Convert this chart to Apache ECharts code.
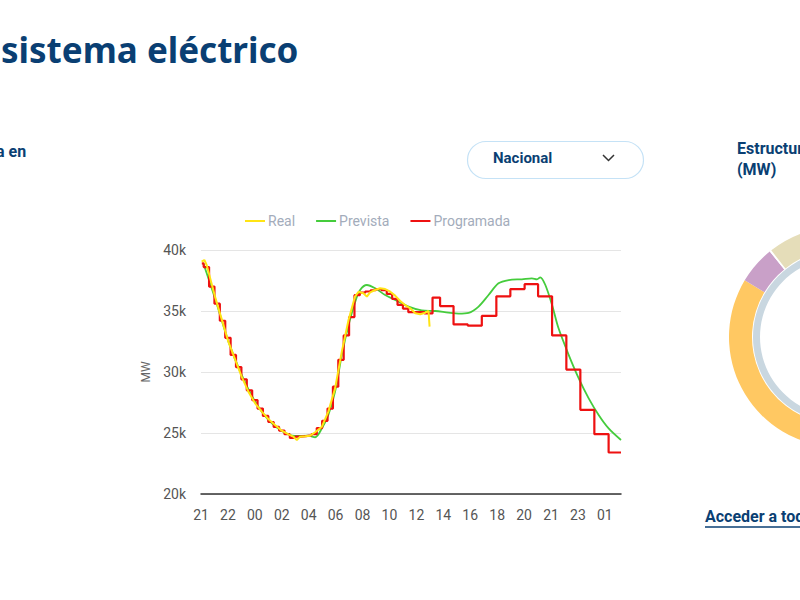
<!DOCTYPE html>
<html>
<head>
<meta charset="utf-8">
<script src="https://cdn.jsdelivr.net/npm/echarts@6/dist/echarts.min.js"></script>
<style>
html,body{margin:0;padding:0;background:#fff;}
#chart{width:800px;height:600px;}
</style>
</head>
<body>
<div id="chart"></div>
<script>
// x positions are in tick-label units (0 = first label "21")
const tickLabels = ['21','22','00','02','04','06','08','10','12','14','16','18','20','21','23','01'];

const realX = [0.025,0.124,0.21,0.52,1.016,1.51,1.76,2.01,2.26,2.50,2.75,3.00,3.25,3.43,3.56,3.68,3.87,4.05,4.24,4.49,4.73,4.98,5.23,5.48,5.72,5.85,6.03,6.16,6.28,6.47,6.65,6.84,7.03,7.21,7.40,7.58,7.77,7.96,8.14,8.33,8.45,8.49];
const realY = [39040,39180,38770,36180,32490,29620,28390,27430,26750,26150,25660,25190,24890,24700,24430,24700,24730,24780,25060,25520,26750,28660,31670,34260,36180,36580,36450,36180,36530,36720,36860,36800,36580,36260,35820,35490,35220,34810,34730,34860,35000,33720];

const prevX = [0.09,0.52,1.02,1.51,2.01,2.50,3.00,3.49,3.99,4.24,4.49,4.73,4.98,5.23,5.48,5.73,5.91,6.16,6.47,6.84,7.21,7.71,8.20,8.70,9.19,9.57,9.94,10.31,10.68,11.05,11.43,11.92,12.29,12.48,12.60,12.79,13.04,13.28,13.66,14.03,14.40,14.77,15.14,15.60];
const prevY = [38900,36040,32490,29760,27570,26070,25170,24760,24780,24650,25380,26480,28390,31390,33850,35770,36720,37130,36860,36310,35900,35360,35050,35000,34860,34780,34840,35360,36310,37270,37540,37600,37680,37600,37760,37130,35490,33580,31390,29480,27840,26480,25380,24430];

const progX = [0.03,0.1,0.3,0.5,0.7,0.9,1.1,1.3,1.5,1.7,1.9,2.1,2.3,2.5,2.7,2.9,3.1,3.3,3.5,3.7,3.9,4.1,4.3,4.5,4.7,4.9,5.1,5.3,5.5,5.7,5.9,6.1,6.3,6.5,6.7,6.9,7.1,7.3,7.5,7.7,7.9,8.1,8.3,8.60,8.88,9.38,9.91,10.43,10.97,11.49,12.02,12.52,13.04,13.57,14.09,14.61,15.14,15.60];
const progY = [38900,38600,37000,35600,34200,32800,31400,30400,29400,28500,27700,27000,26400,25900,25500,25200,24900,24600,24700,24750,24800,24900,25400,26000,27000,28800,31000,33000,34500,36300,36500,36600,36700,36800,36700,36400,36000,35500,35200,34900,34900,34900,34800,36100,35400,33900,33800,34600,36200,36800,37200,36200,33000,30200,26900,24900,23400,23400];

const donutNames = ['Otras','Renovable A','Renovable B','Hueco','Renovable C'];
const donutValues = [190,111,20,1,38];
const donutColors = ['#ffffff','#FFC862','#C9A0C8','#ffffff','#E5DDB9'];

const zip = (xs, ys) => xs.map((x, i) => [x, ys[i]]);

const chart = echarts.init(document.getElementById('chart'), null, {renderer: 'svg'});
const font = 'Roboto, "Liberation Sans", Arial, sans-serif';
chart.setOption({
  animation: false,
  textStyle: {fontFamily: font},
  legend: {
    left: 245, top: 214, padding: 0,
    icon: 'rect', itemWidth: 20, itemHeight: 2, itemGap: 21,
    textStyle: {color: '#a3acbb', fontSize: 14, fontFamily: font, padding: [0, 0, 0, -2]},
    data: ['Real', 'Prevista', 'Programada']
  },
  grid: {left: 201, right: 179, top: 250, bottom: 106},
  xAxis: {
    type: 'value', min: 0, max: 15.6, interval: 1,
    axisLine: {show: true, lineStyle: {color: '#333', width: 1.5}},
    axisTick: {show: false},
    splitLine: {show: false},
    axisLabel: {
      color: '#555', fontSize: 14, margin: 14, showMaxLabel: false,
      formatter: v => (Number.isInteger(v) && tickLabels[v] !== undefined) ? tickLabels[v] : ''
    }
  },
  yAxis: {
    type: 'value', min: 20000, max: 40000, interval: 5000,
    name: 'MW', nameLocation: 'middle', nameGap: 48,
    nameTextStyle: {color: '#666', fontSize: 12},
    axisLine: {show: false}, axisTick: {show: false},
    splitLine: {lineStyle: {color: '#e5e5e5'}},
    axisLabel: {color: '#555', fontSize: 14, margin: 15, formatter: v => (v / 1000) + 'k'}
  },
  series: [
    {name: 'Real', type: 'line', data: zip(realX, realY), showSymbol: false, z: 4,
     lineStyle: {color: '#FFE414', width: 2}, itemStyle: {color: '#FFE414'}},
    {name: 'Prevista', type: 'line', data: zip(prevX, prevY), showSymbol: false, smooth: 0.3, z: 2,
     lineStyle: {color: '#45CC3C', width: 1.8}, itemStyle: {color: '#45CC3C'}},
    {name: 'Programada', type: 'line', step: 'end', data: zip(progX, progY), showSymbol: false, z: 3,
     lineStyle: {color: '#EE1111', width: 2.2}, itemStyle: {color: '#EE1111'}},
    {type: 'pie', silent: true, center: [839, 337], radius: [87, 110], startAngle: 90, clockwise: true,
     label: {show: false}, labelLine: {show: false}, selectedOffset: 8,
     data: donutValues.map((v, i) => ({name: donutNames[i], value: v, selected: i === 4,
       itemStyle: {color: donutColors[i]}}))},
    {type: 'pie', silent: true, center: [839, 337], radius: [79, 86], label: {show: false},
     data: [{name: 'base', value: 1, itemStyle: {color: '#C9D7E0'}}]}
  ],
  graphic: [
    {type: 'text', left: 1, top: 32, style: {text: 'sistema eléctrico', fill: '#0A3F73', font: 'bold 35px "Noto Sans", sans-serif'}},
    {type: 'text', left: -4, top: 143, style: {text: 'a en', fill: '#0A3F73', font: 'bold 16px Roboto, sans-serif'}},
    {type: 'rect', shape: {x: 467.5, y: 141.5, width: 176, height: 37, r: 18.5}, style: {fill: '#fff', stroke: '#C5E2F6', lineWidth: 1.2}},
    {type: 'text', left: 493, top: 150, style: {text: 'Nacional', fill: '#0A3F73', font: 'bold 15px Roboto, sans-serif'}},
    {type: 'polyline', shape: {points: [[603, 155], [608.5, 160.5], [614, 155]]}, style: {stroke: '#333', lineWidth: 1.5, fill: null}},
    {type: 'text', left: 737, top: 140, style: {text: 'Estructura de generación', fill: '#0A3F73', font: 'bold 16px Roboto, sans-serif'}},
    {type: 'text', left: 737, top: 161, style: {text: '(MW)', fill: '#0A3F73', font: 'bold 16px Roboto, sans-serif'}},
    {type: 'text', left: 705, top: 508, style: {text: 'Acceder a todos los datos', fill: '#0A3F73', font: 'bold 16px Roboto, sans-serif'}},
    {type: 'line', shape: {x1: 705, y1: 527, x2: 800, y2: 527}, style: {stroke: '#0A3F73', lineWidth: 1.5}}
  ]
});
</script>
</body>
</html>
